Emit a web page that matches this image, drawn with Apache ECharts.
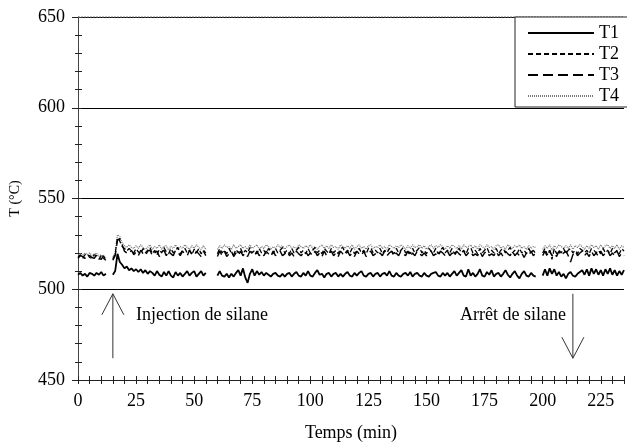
<!DOCTYPE html>
<html><head><meta charset="utf-8">
<script src="https://cdn.jsdelivr.net/npm/echarts@6/dist/echarts.min.js"></script>
<style>html,body{margin:0;padding:0;background:#fff}#c{width:627px;height:447px}</style>
</head><body><div id="c"></div>
<script>
const seriesNames = ['T1', 'T2', 'T3', 'T4'];
const startTime = 0;   // min
const timeStep = 1;    // min between samples
const T1 = [
508, 509, 507.5, 508.5, 507, 509, 508.5, 507.5, 509, 508,
509.5, 507.5, 508.5, null, null, 508, 510, 519.5, 515, 513.5,
511.5, 512.5, 510.5, 511.5, 510, 511, 509.5, 511, 509, 510.5,
508.5, 510, 509, 507.5, 510, 508, 507, 509.5, 507.5, 510,
507.5, 506.5, 509.5, 507.5, 509, 507, 508.5, 510, 507.5, 509,
510, 507, 508.5, 510, 507.5, 509, null, null, null, null,
507.5, 510, 507.5, 507, 508.5, 506.5, 508.5, 507, 509, 510.5,
507.5, 511.5, 506.5, 503.5, 508.5, 511, 507.5, 510, 508, 509.5,
507.5, 509, 508, 507, 508.5, 509, 507.5, 507, 508.5, 507,
508.5, 509, 507, 508.5, 509.5, 507.5, 507, 509, 507.5, 510,
507.5, 507, 509, 510.5, 508, 508.5, 506.5, 508.5, 509, 507,
508.5, 509, 507, 508.5, 507, 508.5, 509.5, 507.5, 507, 509,
507.5, 509, 510, 507.5, 507, 508.5, 509, 507, 508.5, 509,
507, 508.5, 509, 507.5, 510, 507.5, 507, 509, 507.5, 507,
508.5, 509, 507.5, 509.5, 507, 508.5, 509, 507.5, 507, 509,
507.5, 507, 508.5, 509, 509.5, 507.5, 507, 509, 507.5, 509,
507, 508.5, 510, 507.5, 509, 510.5, 507.5, 507, 511, 507.5,
509, 507, 508.5, 511, 507.5, 507, 509.5, 508, 510.5, 507,
508.5, 509, 507, 508.5, 510.5, 508, 506.5, 508.5, 510, 507.5,
506, 508.5, 510, 507.5, 507, 509, 507.5, 507, null, null,
507.5, 511, 507.5, 511.5, 508.5, 511, 507.5, 509.5, 507, 508.5,
506, 508.5, 509.5, 507.5, 507, 508.5, 509.5, 510.5, 508, 511,
507.5, 511.5, 508.5, 511, 508, 510.5, 507.5, 511, 508.5, 511.5,
508, 510.5, 507.5, 510, 508, 510.5
];
const T2 = [
517.5, 519, 517, 519, 519.5, 517.5, 517, 519, 518.5, 516.5,
518.5, 517, 516, null, null, 516.5, 519.5, 528.5, 526.5, 523.5,
522.5, 521, 522.5, 521, 520, 522.5, 520.5, 519.5, 522.5, 520,
521.5, 523, 519.5, 521.5, 519, 522, 520, 523, 520.5, 519.5,
522.5, 520, 521.5, 523, 519.5, 521.5, 522.5, 520, 521.5, 519,
522, 520, 522.5, 519.5, 521.5, 520, null, null, null, null,
519.5, 522.5, 520, 521.5, 519.5, 522.5, 520, 519, 522, 520,
522.5, 519.5, 521.5, 520, 523, 520, 521.5, 519.5, 522.5, 520,
521.5, 519.5, 522.5, 521, 519.5, 522.5, 520, 521.5, 523, 520,
521.5, 519.5, 522.5, 520, 521.5, 523, 520, 521.5, 519.5, 522.5,
520, 521.5, 523, 520, 521.5, 519.5, 522.5, 521, 519.5, 522.5,
520, 521.5, 519.5, 522.5, 523, 520, 521.5, 520, 522.5, 519.5,
521.5, 522.5, 520, 521.5, 519.5, 522.5, 523, 520, 521.5, 520,
522.5, 519.5, 521.5, 520, 522.5, 521, 519.5, 522.5, 520, 521.5,
523, 520, 521.5, 519.5, 522.5, 520, 521.5, 523, 520, 521.5,
519.5, 522.5, 521, 520, 522.5, 519.5, 521.5, 523, 520, 521.5,
520, 522.5, 519.5, 521.5, 522.5, 520, 521.5, 519.5, 522.5, 523,
520, 521.5, 519.5, 522.5, 520, 521.5, 523, 520, 521.5, 520,
522.5, 519.5, 521.5, 522.5, 520, 521.5, 523, 520, 521.5, 519.5,
522.5, 520, 521.5, 519.5, 522.5, 520, 521.5, 519.5, null, null,
520, 522.5, 519, 521.5, 516.5, 522.5, 519.5, 521.5, 520, 522.5,
519.5, 521.5, 522.5, 520, 521.5, 519.5, 522.5, 521.5, 520, 521.5,
519.5, 522.5, 521.5, 520, 521.5, 519.5, 522.5, 520, 521.5, 519.5,
522.5, 520, 521.5, 519.5, 522.5, 521
];
const T3 = [
517, 518.5, 518, 517, 519, 518.5, 517.5, 517, 519, 517,
516.5, 518.5, 515.5, null, null, 516, 518.5, 527, 528, 524.5,
521, 520, 519.5, 521.5, 519, 520.5, 518.5, 521.5, 519.5, 518.5,
521, 521.5, 518.5, 520, 521, 518, 520.5, 521.5, 518.5, 521,
519.5, 518.5, 521.5, 520.5, 518.5, 521, 519.5, 518.5, 521.5, 519.5,
518.5, 521, 519.5, 518, 521, 518.5, null, null, null, null,
518, 521, 518.5, 521, 518, 519.5, 521, 518, 520, 518.5,
521, 518.5, 520, 518, 521, 519.5, 518.5, 521, 518.5, 520,
518.5, 521, 519.5, 518, 521, 518.5, 520, 521, 518.5, 519.5,
521, 518.5, 520, 518, 521, 519.5, 518.5, 520, 521, 518.5,
520, 518.5, 521, 518.5, 520, 518, 521, 518.5, 519.5, 521,
518.5, 520, 518, 521, 519.5, 518.5, 521, 518.5, 520, 518,
521, 519.5, 518.5, 521, 518, 520, 521, 518.5, 519.5, 518.5,
520, 518.5, 521, 518.5, 520, 521, 518, 520, 518.5, 521,
519.5, 518.5, 521, 518, 520, 518.5, 521, 519.5, 518.5, 520,
518.5, 520, 521, 518.5, 519.5, 518, 521, 520, 518.5, 521,
518.5, 520, 518, 521, 519.5, 518.5, 521, 518.5, 520, 521,
518.5, 519.5, 518.5, 521, 518, 520, 521, 518.5, 519.5, 518.5,
521, 518.5, 520, 518, 521, 519.5, 518.5, 521, 518.5, 520,
518.5, 520, 517.5, 520, 518.5, 521, 518.5, 520, null, null,
518.5, 521, 518, 521.5, 518.5, 520, 518, 521, 518.5, 520,
521, 518.5, 515, 519, 521, 518.5, 520, 521, 518.5, 520,
518, 521, 518.5, 520, 518, 521, 518.5, 520, 521, 518.5,
520, 518.5, 521, 518, 520, 518.5
];
const T4 = [
519, 519.5, 518.5, 520, 519, 520, 518.5, 519.5, 520, 518,
519, 518, 517, null, null, 517.5, 520.5, 530, 529, 525.5,
524, 523, 524.5, 523, 522.5, 524, 522.5, 524.5, 523, 522,
523, 524.5, 522, 523.5, 522.5, 524.5, 522, 523.5, 524, 521.5,
523.5, 522.5, 524.5, 522, 523.5, 522.5, 524.5, 523, 522, 524,
522.5, 524.5, 523, 522, 524, 522, null, null, null, null,
522, 524, 522.5, 524.5, 523, 523.5, 522, 524.5, 522.5, 523.5,
524.5, 522.5, 523.5, 522, 524.5, 522.5, 523.5, 524.5, 522, 523.5,
522.5, 524.5, 523.5, 522, 523.5, 522.5, 524.5, 523, 524, 522,
523.5, 524.5, 522.5, 523.5, 522, 524.5, 523.5, 522.5, 524, 523,
524.5, 522.5, 523.5, 522, 523.5, 524.5, 522.5, 524, 522.5, 524.5,
523, 523.5, 522, 524.5, 523.5, 522.5, 524, 522.5, 524.5, 522,
523.5, 524.5, 522.5, 523.5, 522, 524, 524.5, 522.5, 523.5, 523,
524.5, 522.5, 523.5, 522, 524.5, 523.5, 522.5, 524, 523, 524.5,
523.5, 522, 524, 522.5, 524.5, 523, 523.5, 524.5, 522.5, 524,
522, 523.5, 524.5, 522.5, 524, 523, 524.5, 523.5, 522, 524,
522.5, 524.5, 523.5, 522.5, 524, 522, 524.5, 523, 523.5, 524.5,
522.5, 524, 522, 524.5, 523.5, 522.5, 524.5, 523, 523.5, 522,
524, 524.5, 522.5, 523.5, 522, 524.5, 523.5, 522.5, 524, 523,
524.5, 522.5, 523.5, 522, 524, 522.5, 523.5, 523, null, null,
522, 524, 522.5, 524.5, 521.5, 524, 522.5, 524.5, 523.5, 522.5,
524, 522.5, 524.5, 522, 524, 523, 524.5, 523.5, 522, 524,
522.5, 524.5, 523, 524, 522, 524.5, 522.5, 524, 524.5, 522.5,
524, 522.5, 524.5, 522, 524, 523
];
const annotations = [
  {label: 'Injection de silane', time: 15, from: 462, to: 497.5, textTime: 25, textT: 485.5, align: 'left'},
  {label: 'Arrêt de silane', time: 213, from: 497.5, to: 462, textTime: 210, textT: 485.5, align: 'right'}
];

const FONT = '"Liberation Serif", "Times New Roman", serif';
const toPairs = arr => arr.map((v, i) => [startTime + i * timeStep, v]);
const styles = [
  {color: '#000', width: 1.8, type: 'solid'},
  {color: '#000', width: 1.3, type: [5, 3]},
  {color: '#000', width: 1.4, type: [10, 5]},
  {color: '#777', width: 1.3, type: [1, 1]}
];
const allData = [T1, T2, T3, T4];

const chart = echarts.init(document.getElementById('c'));
const xBase = {type: 'value', min: 0, max: 235, interval: 5, gridIndex: 0, position: 'bottom', splitLine: {show: false}};
const yBase = {type: 'value', min: 450, max: 650, gridIndex: 0, position: 'left'};
chart.setOption({
  animation: false,
  backgroundColor: '#fff',
  grid: {left: 77, right: 2, top: 17, bottom: 65},
  xAxis: [
    Object.assign({}, xBase, {
      axisLine: {lineStyle: {color: '#222', width: 1}},
      axisTick: {length: 4, lineStyle: {color: '#222'}},
      axisLabel: {fontFamily: FONT, fontSize: 18, color: '#000', margin: 12,
        formatter: v => (v % 25 === 0 && v <= 225) ? String(v) : ''},
      name: 'Temps (min)', nameLocation: 'middle', nameGap: 44,
      nameTextStyle: {fontFamily: FONT, fontSize: 18, color: '#000'}
    }),
    Object.assign({}, xBase, {
      axisLine: {show: false},
      axisTick: {inside: true, length: 4, lineStyle: {color: '#222'}},
      axisLabel: {show: false}
    })
  ],
  yAxis: [
    Object.assign({}, yBase, {
      interval: 10,
      axisLine: {lineStyle: {color: '#444', width: 1}},
      axisTick: {length: 3, lineStyle: {color: '#222'}},
      axisLabel: {fontFamily: FONT, fontSize: 18, color: '#000', margin: 13,
        formatter: v => v % 50 === 0 ? String(v) : ''},
      splitLine: {show: false},
      name: 'T (°C)', nameLocation: 'middle', nameGap: 56, nameRotate: 90,
      nameTextStyle: {fontFamily: FONT, fontSize: 14, color: '#000'}
    }),
    Object.assign({}, yBase, {
      interval: 10,
      axisLine: {show: false},
      axisTick: {inside: true, length: 4, lineStyle: {color: '#222'}},
      axisLabel: {show: false},
      splitLine: {show: false}
    }),
    Object.assign({}, yBase, {
      interval: 50,
      axisLine: {show: false},
      axisTick: {length: 6, lineStyle: {color: '#222'}},
      axisLabel: {show: false},
      splitLine: {show: true, lineStyle: {color: '#000', width: 1}}
    })
  ],
  legend: {
    orient: 'vertical', left: 522, top: 19, itemWidth: 66, itemHeight: 10, itemGap: 3,
    data: seriesNames,
    itemStyle: {opacity: 0},
    textStyle: {fontFamily: FONT, fontSize: 18, color: '#000', padding: [6, 0, 0, 0]},
    z: 10
  },
  series: allData.map((arr, k) => ({
    name: seriesNames[k], type: 'line', xAxisIndex: 0, yAxisIndex: 0,
    data: toPairs(arr), showSymbol: false, symbol: 'none', connectNulls: false,
    lineStyle: styles[k], itemStyle: {color: styles[k].color}, z: 5 - k
  }))
});

function drawAnnotations() {
  const tl = chart.convertToPixel({xAxisIndex: 0, yAxisIndex: 0}, [0, 650]);
  const tr = chart.convertToPixel({xAxisIndex: 0, yAxisIndex: 0}, [235, 650]);
  const els = [
    {type: 'line', shape: {x1: tl[0], y1: tl[1], x2: tr[0], y2: tr[1]},
      style: {stroke: '#777', lineWidth: 1.2, lineDash: [2, 1]}, z: 3},
    {type: 'rect', shape: {x: 515, y: 17, width: 130, height: 90},
      style: {fill: '#fff', stroke: '#222', lineWidth: 1}, z: 4}
  ];
  annotations.forEach(a => {
    const p0 = chart.convertToPixel({xAxisIndex: 0, yAxisIndex: 0}, [a.time, a.from]);
    const p1 = chart.convertToPixel({xAxisIndex: 0, yAxisIndex: 0}, [a.time, a.to]);
    const dir = p1[1] < p0[1] ? 1 : -1;
    els.push({type: 'line', shape: {x1: p0[0], y1: p0[1], x2: p1[0], y2: p1[1]},
      style: {stroke: '#333', lineWidth: 1}, z: 6});
    els.push({type: 'polyline', shape: {points: [[p1[0] - 11, p1[1] + dir * 21], [p1[0], p1[1]], [p1[0] + 11, p1[1] + dir * 21]]},
      style: {stroke: '#333', lineWidth: 1, fill: null}, z: 6});
    const tp = chart.convertToPixel({xAxisIndex: 0, yAxisIndex: 0}, [a.textTime, a.textT]);
    els.push({type: 'text', x: tp[0], y: tp[1],
      style: {text: a.label, font: '18px ' + FONT, fill: '#000', align: a.align, verticalAlign: 'middle'}, z: 6});
  });
  chart.setOption({graphic: els});
}
drawAnnotations();
</script>
</body></html>
